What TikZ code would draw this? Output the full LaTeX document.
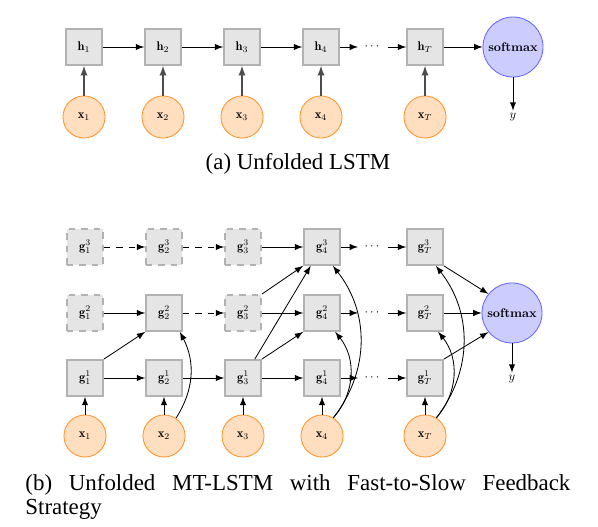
\documentclass[tikz,border=0pt]{standalone}
\usepackage{fontspec}
\usepackage{amsmath}
\usepackage{graphicx}
\newfontfamily\capfont{Liberation Serif}
\usetikzlibrary{positioning}
\newcommand\lbl[1]{\scalebox{0.6}{#1}}
\tikzset{
    cell/.style={draw=black!30, thick, fill=black!10, minimum size=17.3pt, inner sep=0pt},
    ghost/.style={cell, dashed},
    inp/.style={circle, draw=orange!85, fill=orange!25, minimum size=20.2pt, inner sep=0pt},
    soft/.style={circle, draw=blue!60, fill=blue!20, minimum size=28.8pt, inner sep=0pt},
    dotsnode/.style={minimum width=14pt, inner sep=0pt},
    outlbl/.style={inner sep=1pt},
    link/.style={-latex, thin},
    feed/.style={-latex, semithick, black!70},
    capnode/.style={inner sep=0pt, font=\capfont\fontsize{11}{11.5}\selectfont}
}

\begin{document}
\begin{tikzpicture}[x=0.48pt, y=-0.48pt]
    \useasboundingbox (0,0) rectangle (598,527);
    % (a) unfolded lstm
    \foreach \i/\xx in {1/84,2/163,3/242,4/321}{
        \node[cell] (h\i) at (\xx,47) {\lbl{$\mathbf{h}_\i$}};
        \node[inp] (x\i) at (\xx,117) {\lbl{$\mathbf{x}_\i$}};
        \draw[feed] (x\i) -- (h\i);
    }
    \node[cell] (hT) at (425,47) {\lbl{$\mathbf{h}_T$}};
    \node[inp] (xT) at (425,117) {\lbl{$\mathbf{x}_T$}};
    \draw[feed] (xT) -- (hT);
    \node[dotsnode] (hdots) at (373,47) {\lbl{$\cdots$}};
    \node[soft] (hsm) at (513,47) {\lbl{\textbf{softmax}}};
    \node[outlbl] (hy) at (513,117) {\lbl{$y$}};
    \foreach \i/\j in {1/2,2/3,3/4} \draw[link] (h\i) -- (h\j);
    \draw[link] (h4) -- (hdots);
    \draw[link] (hdots) -- (hT);
    \draw[link] (hT) -- (hsm);
    \draw[link] (hsm) -- (hy);
    \node[capnode] (capa) at (298,164) {(a) Unfolded LSTM};

    % (b) unfolded mt-lstm
    \foreach \c/\xx in {1/85,2/164,3/243,4/322}{
        \node[inp] (xb\c) at (\xx,436) {\lbl{$\mathbf{x}_\c$}};
        \node[cell] (g\c1) at (\xx,378) {\lbl{$\mathbf{g}_\c^1$}};
        \draw[link] (xb\c) -- (g\c1);
    }
    \foreach \c/\xx/\s in {1/85/ghost,2/164/cell,3/243/ghost,4/322/cell}
        \node[\s] (g\c2) at (\xx,313) {\lbl{$\mathbf{g}_\c^2$}};
    \foreach \c/\xx/\s in {1/85/ghost,2/164/ghost,3/243/ghost,4/322/cell}
        \node[\s] (g\c3) at (\xx,247) {\lbl{$\mathbf{g}_\c^3$}};
    \node[inp] (xbT) at (425,436) {\lbl{$\mathbf{x}_T$}};
    \foreach \l/\yy in {1/378,2/313,3/247}{
        \node[cell] (gT\l) at (425,\yy) {\lbl{$\mathbf{g}_T^\l$}};
        \node[dotsnode] (d\l) at (373,\yy) {\lbl{$\cdots$}};
        \draw[link] (g4\l) -- (d\l);
        \draw[link] (d\l) -- (gT\l);
    }
    \draw[link] (xbT) -- (gT1);
    \node[soft] (bsm) at (512,313) {\lbl{\textbf{softmax}}};
    \node[outlbl] (by) at (512,379) {\lbl{$y$}};
    \draw[link] (bsm) -- (by);

    % level transitions
    \draw[link] (g11) -- (g21);
    \draw[link] (g21) -- (g31);
    \draw[link] (g31) -- (g41);
    \draw[link] (g12) -- (g22);
    \draw[link, dashed] (g22) -- (g32);
    \draw[link] (g32) -- (g42);
    \draw[link, dashed] (g13) -- (g23);
    \draw[link, dashed] (g23) -- (g33);
    \draw[link] (g33) -- (g43);
    % slow updates
    \draw[link] (g11.north east) -- (g22.south west);
    \draw[link] (g31.north east) -- (g42.south west);
    \draw[link] (g31.58) -- (g43.-121);
    \draw[link] (g32.north east) -- (g43.south west);
    % feedback from input
    \draw[link] (xb2.56) to[bend right=30] (g22.-50);
    \draw[link] (xb4.58) to[bend right=40] (g42.-55);
    \draw[link] (xb4.58) to[bend right=38] (g43.-60);
    \draw[link] (xbT.58) to[bend right=40] (gT2.-55);
    \draw[link] (xbT.58) to[bend right=38] (gT3.-60);
    % into softmax
    \draw[link] (gT3.south east) -- (bsm.141);
    \draw[link] (gT2) -- (bsm);
    \draw[link] (gT1.north east) -- (bsm.219);
    \node[capnode, text width=261.6pt, align=justify, anchor=north west] (capb) at (25,474)
        {(b) Unfolded MT-LSTM with Fast-to-Slow Feedback\linebreak Strategy};
\end{tikzpicture}
\end{document}
